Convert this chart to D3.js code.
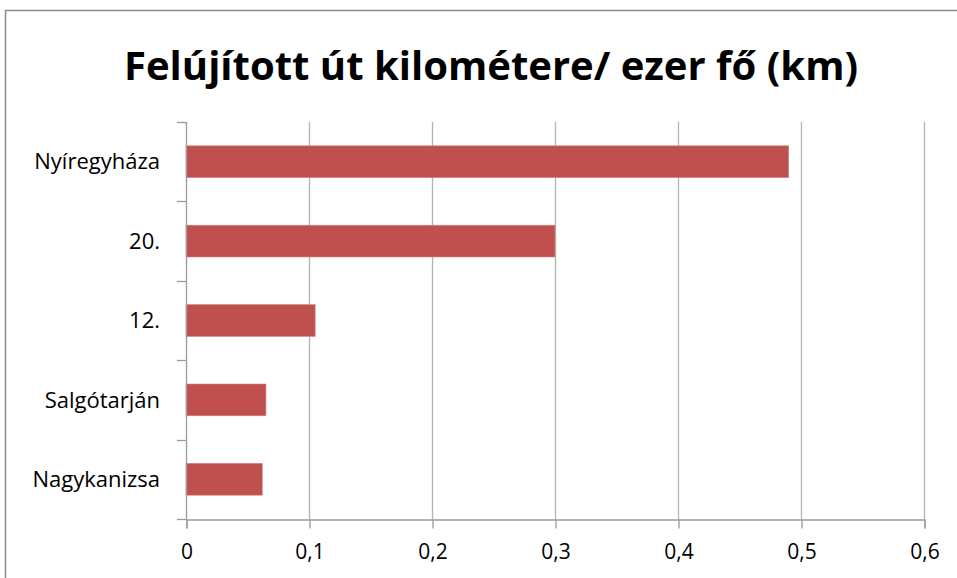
<!DOCTYPE html>
<html>
<head>
<meta charset="utf-8">
<script src="https://cdn.jsdelivr.net/npm/d3@7"></script>
<style>
  body { margin: 0; background: #fff; }
  text { font-family: "Open Sans", "Noto Sans", sans-serif; }
</style>
</head>
<body>
<div id="chart"></div>
<script>
const width = 957
const height = 578

const categories = ['Nyíregyháza', '20.', '12.', 'Salgótarján', 'Nagykanizsa']
const values = [0.49, 0.3, 0.105, 0.065, 0.062]
const xTicks = [0, 0.1, 0.2, 0.3, 0.4, 0.5, 0.6]

const margin = { top: 122, right: 33, bottom: 59, left: 186 }

const svg = d3.select('#chart')
  .append('svg')
  .attr('width', width)
  .attr('height', height)

// chart frame
svg.append('rect')
  .attr('x', 5.5)
  .attr('y', 10.5)
  .attr('width', width + 10)
  .attr('height', height + 10)
  .attr('fill', '#fff')
  .attr('stroke', '#8c8c8c')
  .attr('stroke-width', 1.5)

svg.append('text')
  .attr('x', 491)
  .attr('y', 80)
  .attr('text-anchor', 'middle')
  .attr('font-size', 40)
  .attr('font-weight', 'bold')
  .attr('textLength', 734)
  .attr('lengthAdjust', 'spacingAndGlyphs')
  .text('Felújított út kilométere/ ezer fő (km)')

const x = d3.scaleLinear()
  .domain([0, 0.6])
  .range([margin.left, width - margin.right])

const y = d3.scaleBand()
  .domain(categories)
  .range([margin.top, height - margin.bottom])
  .paddingInner(0.6)
  .paddingOuter(0.3)

// gridlines
svg.append('g')
  .selectAll('line')
  .data(xTicks.slice(1))
  .join('line')
  .attr('x1', d => x(d) + 0.5)
  .attr('x2', d => x(d) + 0.5)
  .attr('y1', margin.top)
  .attr('y2', height - margin.bottom)
  .attr('stroke', '#b3b3b3')
  .attr('stroke-width', 1.3)

// bars
svg.append('g')
  .selectAll('rect')
  .data(values)
  .join('rect')
  .attr('x', x(0))
  .attr('y', (d, i) => y(categories[i]))
  .attr('width', d => x(d) - x(0))
  .attr('height', y.bandwidth())
  .attr('fill', '#c0504d')
  .attr('stroke', '#d4807d')
  .attr('stroke-width', 0.6)

// x axis
const xAxis = svg.append('g')
  .attr('transform', `translate(0.5, ${height - margin.bottom + 0.5})`)
  .call(d3.axisBottom(x)
    .tickValues(xTicks)
    .tickSize(9)
    .tickPadding(16)
    .tickFormat(d => d3.format('.1~f')(d).replace('.', ',')))

xAxis.select('.domain').attr('stroke', '#9a9a9a').attr('stroke-width', 1.3)
xAxis.selectAll('.tick line').attr('stroke', '#9a9a9a').attr('stroke-width', 1.3)
xAxis.selectAll('.tick text')
  .attr('font-size', 21)
  .attr('fill', '#000')
  .style('font-family', '"Open Sans", sans-serif')

// y axis
const yBoundaries = d3.range(categories.length + 1).map(i => margin.top + i * (height - margin.top - margin.bottom) / categories.length)

svg.append('line')
  .attr('x1', x(0) + 0.5)
  .attr('x2', x(0) + 0.5)
  .attr('y1', margin.top)
  .attr('y2', height - margin.bottom)
  .attr('stroke', '#9a9a9a')
  .attr('stroke-width', 1.3)

svg.append('g')
  .selectAll('line')
  .data(yBoundaries)
  .join('line')
  .attr('x1', x(0) - 9)
  .attr('x2', x(0))
  .attr('y1', d => Math.round(d) + 0.5)
  .attr('y2', d => Math.round(d) + 0.5)
  .attr('stroke', '#9a9a9a')
  .attr('stroke-width', 1.3)

svg.append('g')
  .selectAll('text')
  .data(categories)
  .join('text')
  .attr('x', 160)
  .attr('y', d => y(d) + y.bandwidth() / 2)
  .attr('dy', '0.35em')
  .attr('text-anchor', 'end')
  .attr('font-size', 22)
  .text(d => d)
</script>
</body>
</html>
